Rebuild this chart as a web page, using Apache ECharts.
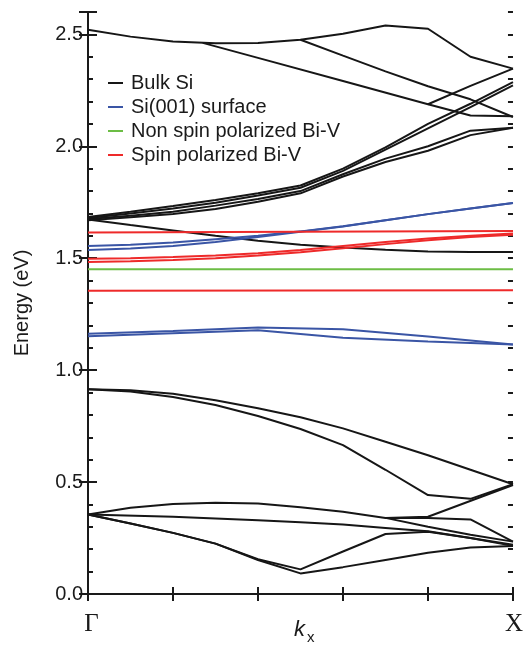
<!DOCTYPE html>
<html>
<head>
<meta charset="utf-8">
<script src="https://cdn.jsdelivr.net/npm/echarts@6/dist/echarts.min.js"></script>
<style>
  html, body { margin: 0; padding: 0; background: #fff; }
  #chart { width: 526px; height: 649px; }
</style>
</head>
<body>
<div id="chart"></div>
<script>
// k along Γ–X (0 = Γ, 1 = X), energies in eV

// Bulk Si bands
const bulkBands = [
  // upper conduction bands
  [[0,2.521],[0.1,2.49],[0.2,2.468],[0.3,2.46],[0.4,2.461],[0.5,2.476],[0.6,2.503],[0.7,2.54],[0.8,2.525],[0.9,2.40],[1.0,2.347]],
  [[0.5,2.476],[0.6,2.405],[0.7,2.335],[0.8,2.268],[0.9,2.21],[1.0,2.131]],
  [[0.27,2.462],[0.4,2.395],[0.6,2.292],[0.8,2.188],[0.9,2.138],[1.0,2.134]],
  [[0.8,2.188],[0.9,2.27],[1.0,2.347]],
  // bundle rising from Γ
  [[0,1.684],[0.1,1.708],[0.2,1.733],[0.3,1.76],[0.4,1.79],[0.5,1.825],[0.6,1.90],[0.7,1.995],[0.8,2.10],[0.9,2.19],[1.0,2.287]],
  [[0,1.68],[0.1,1.70],[0.2,1.722],[0.3,1.748],[0.4,1.78],[0.5,1.815],[0.6,1.89],[0.7,1.985],[0.8,2.08],[0.9,2.175],[1.0,2.272]],
  [[0,1.675],[0.1,1.69],[0.2,1.708],[0.3,1.735],[0.4,1.765],[0.5,1.80],[0.6,1.875],[0.7,1.945],[0.8,2.0],[0.9,2.07],[1.0,2.083]],
  [[0,1.67],[0.1,1.683],[0.2,1.698],[0.3,1.72],[0.4,1.752],[0.5,1.79],[0.6,1.865],[0.7,1.93],[0.8,1.98],[0.9,2.05],[1.0,2.083]],
  // band falling from Γ
  [[0,1.673],[0.1,1.648],[0.2,1.624],[0.3,1.60],[0.4,1.578],[0.5,1.56],[0.6,1.548],[0.7,1.538],[0.8,1.53],[0.9,1.528],[1.0,1.528]],
  // valence bands from 0.915 eV
  [[0,0.915],[0.1,0.91],[0.2,0.895],[0.3,0.866],[0.4,0.83],[0.5,0.79],[0.6,0.74],[0.7,0.68],[0.8,0.62],[0.9,0.555],[1.0,0.49]],
  [[0,0.915],[0.1,0.905],[0.2,0.88],[0.3,0.844],[0.4,0.795],[0.5,0.737],[0.6,0.665],[0.7,0.555],[0.8,0.442],[0.9,0.425],[1.0,0.49]],
  // valence bands from 0.355 eV
  [[0,0.355],[0.1,0.385],[0.2,0.402],[0.3,0.408],[0.4,0.404],[0.5,0.388],[0.6,0.367],[0.7,0.34],[0.8,0.30],[0.9,0.265],[1.0,0.234]],
  [[0.7,0.34],[0.8,0.34],[0.9,0.333],[1.0,0.234]],
  [[0.7,0.34],[0.8,0.345],[1.0,0.487]],
  [[0,0.355],[0.2,0.345],[0.4,0.33],[0.5,0.32],[0.6,0.31],[0.7,0.295],[0.8,0.28],[0.9,0.25],[1.0,0.22]],
  [[0,0.355],[0.1,0.315],[0.2,0.273],[0.3,0.225],[0.4,0.155],[0.5,0.11],[0.6,0.19],[0.7,0.268],[0.8,0.278],[0.9,0.25],[1.0,0.215]],
  [[0,0.355],[0.1,0.315],[0.2,0.273],[0.3,0.225],[0.4,0.152],[0.5,0.092],[0.6,0.12],[0.7,0.152],[0.8,0.184],[0.9,0.208],[1.0,0.214]]
];

// Si(001) surface states
const surfaceBands = [
  [[0,1.555],[0.1,1.56],[0.2,1.57],[0.3,1.585],[0.4,1.60],[0.5,1.62],[0.6,1.643],[0.7,1.67],[0.8,1.697],[0.9,1.722],[1.0,1.747]],
  [[0,1.537],[0.1,1.543],[0.2,1.555],[0.3,1.572],[0.4,1.595],[0.5,1.618],[0.6,1.642],[0.7,1.67],[0.8,1.697],[0.9,1.722],[1.0,1.747]],
  [[0,1.163],[0.2,1.175],[0.4,1.19],[0.6,1.183],[0.8,1.15],[1.0,1.115]],
  [[0,1.152],[0.2,1.165],[0.4,1.178],[0.6,1.145],[0.8,1.128],[1.0,1.115]]
];

// Bi-V defect levels
const nonSpinBands = [
  [[0,1.451],[1.0,1.451]]
];
const spinBands = [
  [[0,1.615],[1.0,1.622]],
  [[0,1.498],[0.1,1.50],[0.2,1.505],[0.3,1.512],[0.4,1.522],[0.5,1.537],[0.6,1.555],[0.7,1.572],[0.8,1.588],[0.9,1.60],[1.0,1.61]],
  [[0,1.483],[0.1,1.486],[0.2,1.492],[0.3,1.50],[0.4,1.512],[0.5,1.527],[0.6,1.545],[0.7,1.563],[0.8,1.58],[0.9,1.595],[1.0,1.605]],
  [[0,1.355],[1.0,1.357]]
];

const groups = [
  { name: 'Bulk Si', color: '#161616', bands: bulkBands },
  { name: 'Si(001) surface', color: '#3a55a5', bands: surfaceBands },
  { name: 'Non spin polarized Bi-V', color: '#6cbd45', bands: nonSpinBands },
  { name: 'Spin polarized Bi-V', color: '#ee2a2a', bands: spinBands }
];

const series = [];
groups.forEach(g => {
  g.bands.forEach(b => {
    series.push({
      name: g.name,
      type: 'line',
      data: b,
      showSymbol: false,
      symbol: 'none',
      smooth: false,
      color: g.color,
      lineStyle: { color: g.color, width: 2 },
      silent: true
    });
  });
});

const axisColor = '#1a1a1a';
const chart = echarts.init(document.getElementById('chart'));
chart.setOption({
  animation: false,
  backgroundColor: '#fff',
  grid: { left: 88, right: 8, top: 12, bottom: 55, containLabel: false },
  legend: {
    orient: 'vertical',
    left: 103,
    top: 68,
    itemWidth: 15,
    itemHeight: 2,
    itemGap: 4,
    icon: 'rect',
    data: groups.map(g => g.name),
    textStyle: { fontFamily: 'Liberation Sans, Arial, sans-serif', fontSize: 20, color: '#1a1a1a', lineHeight: 20, padding: [0, 0, 0, 3] }
  },
  xAxis: [
    {
      type: 'value', min: 0, max: 1, interval: 0.2, position: 'bottom',
      axisLine: { show: true, lineStyle: { color: axisColor, width: 2 } },
      axisTick: { show: true, inside: true, length: 7, lineStyle: { color: axisColor, width: 2 } },
      splitLine: { show: false },
      axisLabel: {
        show: true, margin: 18,
        fontFamily: 'Liberation Serif, Times New Roman, serif', fontSize: 25, color: '#1a1a1a',
        formatter: v => (v === 0 ? '{g|Γ}' : (v === 1 ? '{x|X}' : '')),
        rich: {
          g: { fontFamily: 'Liberation Serif, Times New Roman, serif', fontSize: 25, color: '#1a1a1a', padding: [0, 0, 0, 7] },
          x: { fontFamily: 'Liberation Serif, Times New Roman, serif', fontSize: 25, color: '#1a1a1a', padding: [0, 0, 0, 2] }
        }
      }
    },
    {
      type: 'value', min: 0, max: 1, interval: 0.2, position: 'top',
      axisLine: { show: true, lineStyle: { color: axisColor, width: 2 } },
      axisTick: { show: true, inside: true, length: 7, lineStyle: { color: axisColor, width: 2 } },
      splitLine: { show: false }, axisLabel: { show: false }
    }
  ],
  yAxis: [
    {
      type: 'value', min: 0, max: 2.6, interval: 0.5, position: 'left',
      name: 'Energy (eV)', nameLocation: 'middle', nameGap: 56, nameRotate: 90,
      nameTextStyle: { fontFamily: 'Liberation Sans, Arial, sans-serif', fontSize: 20, color: '#1a1a1a' },
      axisLine: { show: true, lineStyle: { color: axisColor, width: 2 } },
      axisTick: { show: true, inside: true, length: 9, lineStyle: { color: axisColor, width: 2 } },
      splitLine: { show: false },
      axisLabel: {
        margin: 5, fontFamily: 'Liberation Sans, Arial, sans-serif', fontSize: 20, color: '#1a1a1a',
        formatter: v => (Math.abs(v * 2 - Math.round(v * 2)) < 1e-6 ? v.toFixed(1) : '')
      }
    },
    {
      type: 'value', min: 0, max: 2.6, interval: 0.5, position: 'right',
      axisLine: { show: true, lineStyle: { color: axisColor, width: 2 } },
      axisTick: { show: true, inside: true, length: 9, lineStyle: { color: axisColor, width: 2 } },
      splitLine: { show: false }, axisLabel: { show: false }
    },
    {
      type: 'value', min: 0, max: 2.6, interval: 0.1, position: 'left',
      axisLine: { show: false },
      axisTick: { show: true, inside: true, length: 5, lineStyle: { color: axisColor, width: 2 } },
      splitLine: { show: false }, axisLabel: { show: false }
    },
    {
      type: 'value', min: 0, max: 2.6, interval: 0.1, position: 'right',
      axisLine: { show: false },
      axisTick: { show: true, inside: true, length: 5, lineStyle: { color: axisColor, width: 2 } },
      splitLine: { show: false }, axisLabel: { show: false }
    }
  ],
  graphic: [
    { type: 'text', left: 294, top: 619, style: { text: 'k', font: 'italic 22px "Liberation Sans", Arial, sans-serif', fill: '#1a1a1a' } },
    { type: 'text', left: 307, top: 630, style: { text: 'x', font: '15px "Liberation Sans", Arial, sans-serif', fill: '#1a1a1a' } }
  ],
  series: series
});
</script>
</body>
</html>
